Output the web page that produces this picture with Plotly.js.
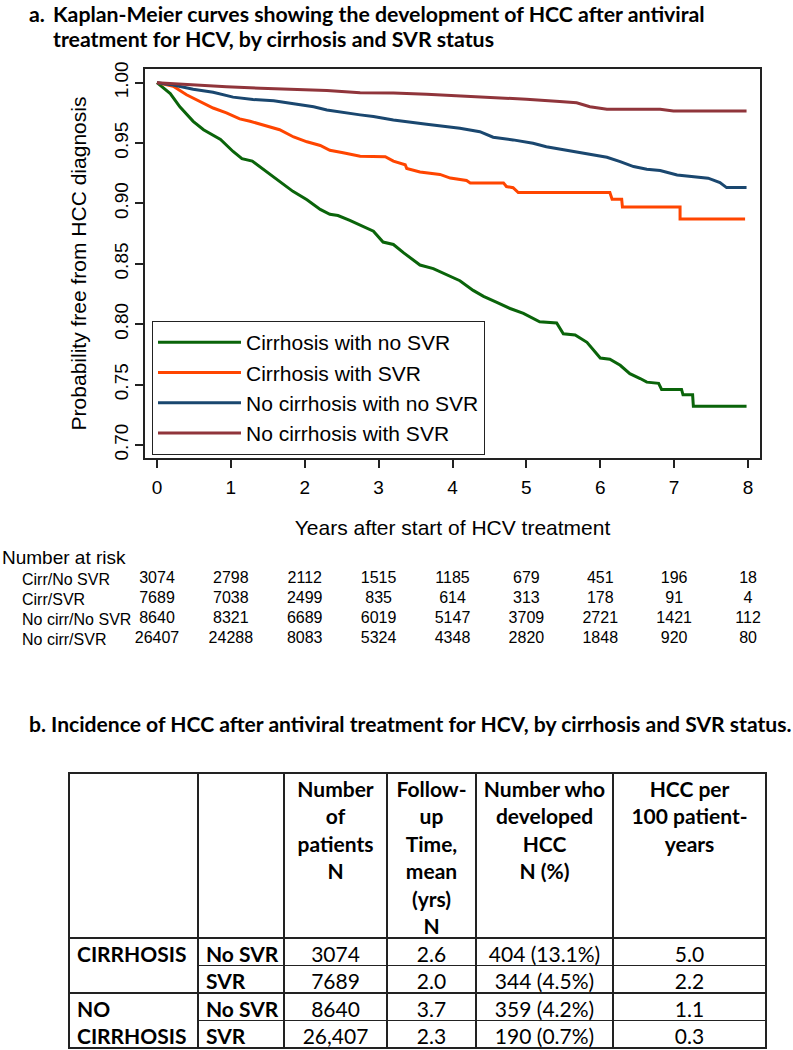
<!DOCTYPE html>
<html>
<head>
<meta charset="utf-8">
<script src="https://cdn.plot.ly/plotly-3.0.1.min.js"></script>
<style>
  html, body { margin: 0; padding: 0; background: #fff; }
  #km { width: 793px; height: 1050px; }
</style>
</head>
<body>
<div id="km"></div>
<script>
// Kaplan-Meier curves (years, survival probability)
var cirrNoSvrT = [0, 0.18, 0.31, 0.49, 0.63, 0.86, 1.03, 1.15, 1.29, 1.44, 1.62, 1.84, 2.03, 2.21, 2.34, 2.45, 2.61, 2.75, 2.93, 3.06, 3.20, 3.34, 3.56, 3.74, 3.92, 4.10, 4.28, 4.42, 4.60, 4.78, 4.96, 5.18, 5.41, 5.50, 5.66, 5.82, 6.00, 6.13, 6.27, 6.40, 6.54, 6.63, 6.79, 6.83, 7.10, 7.12, 7.25, 7.26, 7.98];
var cirrNoSvrS = [1.000, 0.991, 0.980, 0.968, 0.961, 0.953, 0.943, 0.937, 0.935, 0.928, 0.920, 0.910, 0.903, 0.895, 0.891, 0.890, 0.886, 0.882, 0.877, 0.868, 0.866, 0.859, 0.849, 0.846, 0.841, 0.836, 0.828, 0.823, 0.818, 0.813, 0.809, 0.802, 0.801, 0.792, 0.791, 0.785, 0.772, 0.771, 0.766, 0.759, 0.755, 0.752, 0.751, 0.746, 0.746, 0.7415, 0.7415, 0.732, 0.732];

var cirrSvrT = [0, 0.22, 0.40, 0.59, 0.76, 0.94, 1.12, 1.26, 1.44, 1.66, 1.85, 2.03, 2.21, 2.34, 2.52, 2.75, 3.09, 3.20, 3.36, 3.38, 3.56, 3.83, 3.97, 4.19, 4.24, 4.69, 4.73, 4.82, 4.89, 6.13, 6.16, 6.29, 6.30, 7.08, 7.08, 7.96];
var cirrSvrS = [1.000, 0.997, 0.990, 0.984, 0.979, 0.975, 0.970, 0.968, 0.965, 0.961, 0.955, 0.951, 0.948, 0.944, 0.942, 0.939, 0.9387, 0.935, 0.932, 0.929, 0.926, 0.924, 0.921, 0.919, 0.917, 0.917, 0.914, 0.913, 0.909, 0.909, 0.9035, 0.9035, 0.897, 0.897, 0.887, 0.887];

var noCirrNoSvrT = [0, 0.22, 0.49, 0.76, 1.03, 1.30, 1.58, 1.85, 2.12, 2.30, 2.57, 2.75, 2.93, 3.20, 3.65, 4.10, 4.37, 4.55, 4.82, 5.09, 5.27, 5.45, 5.72, 6.09, 6.27, 6.45, 6.63, 6.81, 7.04, 7.26, 7.46, 7.62, 7.71, 7.98];
var noCirrNoSvrS = [1.000, 0.998, 0.9945, 0.992, 0.988, 0.986, 0.985, 0.9824, 0.980, 0.9774, 0.9747, 0.9733, 0.9719, 0.969, 0.9656, 0.9623, 0.9594, 0.9548, 0.9526, 0.9498, 0.947, 0.9451, 0.9421, 0.9382, 0.9346, 0.9305, 0.9283, 0.9272, 0.9236, 0.9222, 0.9209, 0.9172, 0.9131, 0.9131];

var noCirrSvrT = [0, 0.49, 0.94, 1.40, 1.85, 2.30, 2.75, 3.20, 3.65, 4.10, 4.55, 5.00, 5.45, 5.68, 5.86, 6.09, 6.81, 6.99, 7.98];
var noCirrSvrS = [1.000, 0.998, 0.9967, 0.9954, 0.9945, 0.9934, 0.9917, 0.9915, 0.9904, 0.989, 0.9879, 0.9863, 0.9843, 0.9834, 0.9801, 0.978, 0.978, 0.9766, 0.9766];

var groupNames = ['Cirrhosis with no SVR', 'Cirrhosis with SVR', 'No cirrhosis with no SVR', 'No cirrhosis with SVR'];
var groupColors = ['#0a640a', '#ff4500', '#1a476f', '#90353b'];

// number at risk
var riskTimes = [0, 1, 2, 3, 4, 5, 6, 7, 8];
var riskLabels = ['Cirr/No SVR', 'Cirr/SVR', 'No cirr/No SVR', 'No cirr/SVR'];
var riskCirrNoSvr = [3074, 2798, 2112, 1515, 1185, 679, 451, 196, 18];
var riskCirrSvr = [7689, 7038, 2499, 835, 614, 313, 178, 91, 4];
var riskNoCirrNoSvr = [8640, 8321, 6689, 6019, 5147, 3709, 2721, 1421, 112];
var riskNoCirrSvr = [26407, 24288, 8083, 5324, 4348, 2820, 1848, 920, 80];

// incidence table
var tblHeaders = [[], [], ['Number', 'of', 'patients', 'N'], ['Follow-', 'up', 'Time,', 'mean', '(yrs)', 'N'], ['Number who', 'developed', 'HCC', 'N (%)'], ['HCC per', '100 patient-', 'years']];
var tblGroup = ['CIRRHOSIS', '', 'NO', 'CIRRHOSIS'];
var tblSvr = ['No SVR', 'SVR', 'No SVR', 'SVR'];
var tblPatients = ['3074', '7689', '8640', '26,407'];
var tblFollowUp = [2.6, 2.0, 3.7, 2.3];
var tblHccN = [404, 344, 359, 190];
var tblHccPct = [13.1, 4.5, 4.2, 0.7];
var tblRate = [5.0, 2.2, 1.1, 0.3];

var W = 793, H = 1050;
var px = function (v) { return v / W; };
var py = function (v) { return 1 - v / H; };
var nb = function (s) { return s.replace(/ /g, '\u00a0'); };

var curveT = [cirrNoSvrT, cirrSvrT, noCirrNoSvrT, noCirrSvrT];
var curveS = [cirrNoSvrS, cirrSvrS, noCirrNoSvrS, noCirrSvrS];

var data = [];
for (var i = 0; i < 4; i++) {
  data.push({
    x: curveT[i], y: curveS[i], type: 'scatter', mode: 'lines',
    name: groupNames[i], line: {color: groupColors[i], width: 3},
    xaxis: 'x', yaxis: 'y', hoverinfo: 'skip'
  });
}

var riskRows = [riskCirrNoSvr, riskCirrSvr, riskNoCirrNoSvr, riskNoCirrSvr];
riskRows.forEach(function (row, k) {
  data.push({
    x: riskTimes, y: riskTimes.map(function () { return riskLabels[k]; }),
    text: row.map(String), type: 'scatter', mode: 'text', showlegend: false,
    textfont: {family: 'Liberation Sans, Arial, sans-serif', size: 16, color: '#000'},
    xaxis: 'x2', yaxis: 'y2', hoverinfo: 'skip', cliponaxis: false
  });
});

var tableX = [px(69), px(766)];
var tableY = [py(1049), py(773)];
var colW = [129, 86, 103, 89, 137, 153];
var lineCol = '#222';
var clear = 'rgba(0,0,0,0)';

// grid underneath: one tall header cell per column, first column merged in pairs
data.push({
  type: 'table',
  domain: {x: tableX, y: tableY},
  columnwidth: colW,
  header: {values: colW.map(function () { return ''; }), height: 165, line: {color: lineCol, width: 1.5}, fill: {color: '#fff'}},
  cells: {values: colW.map(function () { return ['', '']; }), height: 55, line: {color: lineCol, width: 1.5}, fill: {color: '#fff'}}
});

var headerRows = tblHeaders.map(function (h) {
  var out = [];
  for (var r = 0; r < 6; r++) out.push(nb(h[r] || ''));
  return out;
});

data.push({
  type: 'table',
  domain: {x: tableX, y: tableY},
  columnwidth: colW,
  header: {
    values: headerRows,
    height: 27.5,
    align: 'center',
    line: {color: clear, width: 0},
    fill: {color: clear},
    font: {family: 'Lato, sans-serif', size: 21, color: '#000', weight: 'bold'}
  },
  cells: {
    values: [
      tblGroup,
      tblSvr.map(nb),
      tblPatients,
      tblFollowUp.map(function (v) { return v.toFixed(1); }),
      tblHccN.map(function (n, j) { return nb(n + ' (' + tblHccPct[j].toFixed(1) + '%)'); }),
      tblRate.map(function (v) { return v.toFixed(1); })
    ],
    height: 27.5,
    align: ['left', 'left', 'center', 'center', 'center', 'center'],
    line: {color: [clear, lineCol, lineCol, lineCol, lineCol, lineCol], width: 1.5},
    fill: {color: [clear, '#fff', '#fff', '#fff', '#fff', '#fff']},
    font: {family: 'Lato, sans-serif', size: 21, color: '#000', weight: ['bold', 'bold', 'normal', 'normal', 'normal', 'normal']}
  }
});

var titleFont = {family: 'Lato, sans-serif', size: 21.3, color: '#000', weight: 'bold'};
var annotations = [
  {text: 'a.', x: px(28), y: py(14), xref: 'paper', yref: 'paper', xanchor: 'left', yanchor: 'middle', borderpad: 0, showarrow: false, font: titleFont},
  {text: 'Kaplan-Meier curves showing the development of HCC after antiviral', x: px(52), y: py(14), xref: 'paper', yref: 'paper', xanchor: 'left', yanchor: 'middle', borderpad: 0, showarrow: false, font: titleFont},
  {text: 'treatment for HCV, by cirrhosis and SVR status', x: px(52), y: py(39), xref: 'paper', yref: 'paper', xanchor: 'left', yanchor: 'middle', borderpad: 0, showarrow: false, font: titleFont},
  {text: 'b. Incidence of HCC after antiviral treatment for HCV, by cirrhosis and SVR status.', x: px(27), y: py(723), xref: 'paper', yref: 'paper', xanchor: 'left', yanchor: 'middle', showarrow: false, font: {family: 'Lato, sans-serif', size: 21.1, color: '#000', weight: 'bold'}},
  {text: 'Number at risk', x: 0, y: py(557), xref: 'paper', yref: 'paper', xanchor: 'left', yanchor: 'middle', showarrow: false, font: {family: 'Liberation Sans, Arial, sans-serif', size: 19, color: '#000'}}
];
riskLabels.forEach(function (lab) {
  annotations.push({text: lab, x: px(20), y: lab, xref: 'paper', yref: 'y2', xanchor: 'left', yanchor: 'middle', showarrow: false, font: {family: 'Liberation Sans, Arial, sans-serif', size: 16, color: '#000'}});
});

var layout = {
  width: W, height: H,
  margin: {l: 0, r: 0, t: 0, b: 0},
  paper_bgcolor: '#fff', plot_bgcolor: '#fff',
  font: {family: 'Liberation Sans, Arial, sans-serif', color: '#000'},
  showlegend: true,
  legend: {
    x: px(152), y: py(321), xref: 'paper', yref: 'paper', xanchor: 'left', yanchor: 'top',
    bgcolor: '#fff', bordercolor: '#222', borderwidth: 1,
    font: {size: 21, color: '#000'}, itemwidth: 83
  },
  xaxis: {
    domain: [px(145), px(760)], range: [-0.162, 8.162], anchor: 'y',
    tick0: 0, dtick: 1, ticks: 'outside', ticklen: 8, tickwidth: 1.5, tickcolor: '#222',
    showline: true, mirror: true, linecolor: '#222', linewidth: 1.5,
    showgrid: false, zeroline: false, ticklabelstandoff: 3,
    tickfont: {size: 19},
    title: {text: 'Years after start of HCV treatment', font: {size: 21}, standoff: 24}
  },
  yaxis: {
    domain: [py(458), py(69)], range: [0.6892, 1.0113], anchor: 'x',
    tickvals: [0.70, 0.75, 0.80, 0.85, 0.90, 0.95, 1.00], tickformat: '.2f', tickangle: -90,
    ticks: 'outside', ticklen: 8, tickwidth: 1.5, tickcolor: '#222',
    showline: true, mirror: true, linecolor: '#222', linewidth: 1.5,
    showgrid: false, zeroline: false, ticklabelstandoff: 0,
    tickfont: {size: 19},
    title: {text: 'Probability free from HCC diagnosis', font: {size: 21}, standoff: 18}
  },
  xaxis2: {domain: [px(145), px(760)], range: [-0.162, 8.162], anchor: 'y2', visible: false},
  yaxis2: {domain: [py(649), py(569)], type: 'category', categoryarray: riskLabels, range: [3.5, -0.5], anchor: 'x2', visible: false},
  annotations: annotations
};

Plotly.newPlot('km', data, layout, {displayModeBar: false});
</script>
</body>
</html>
